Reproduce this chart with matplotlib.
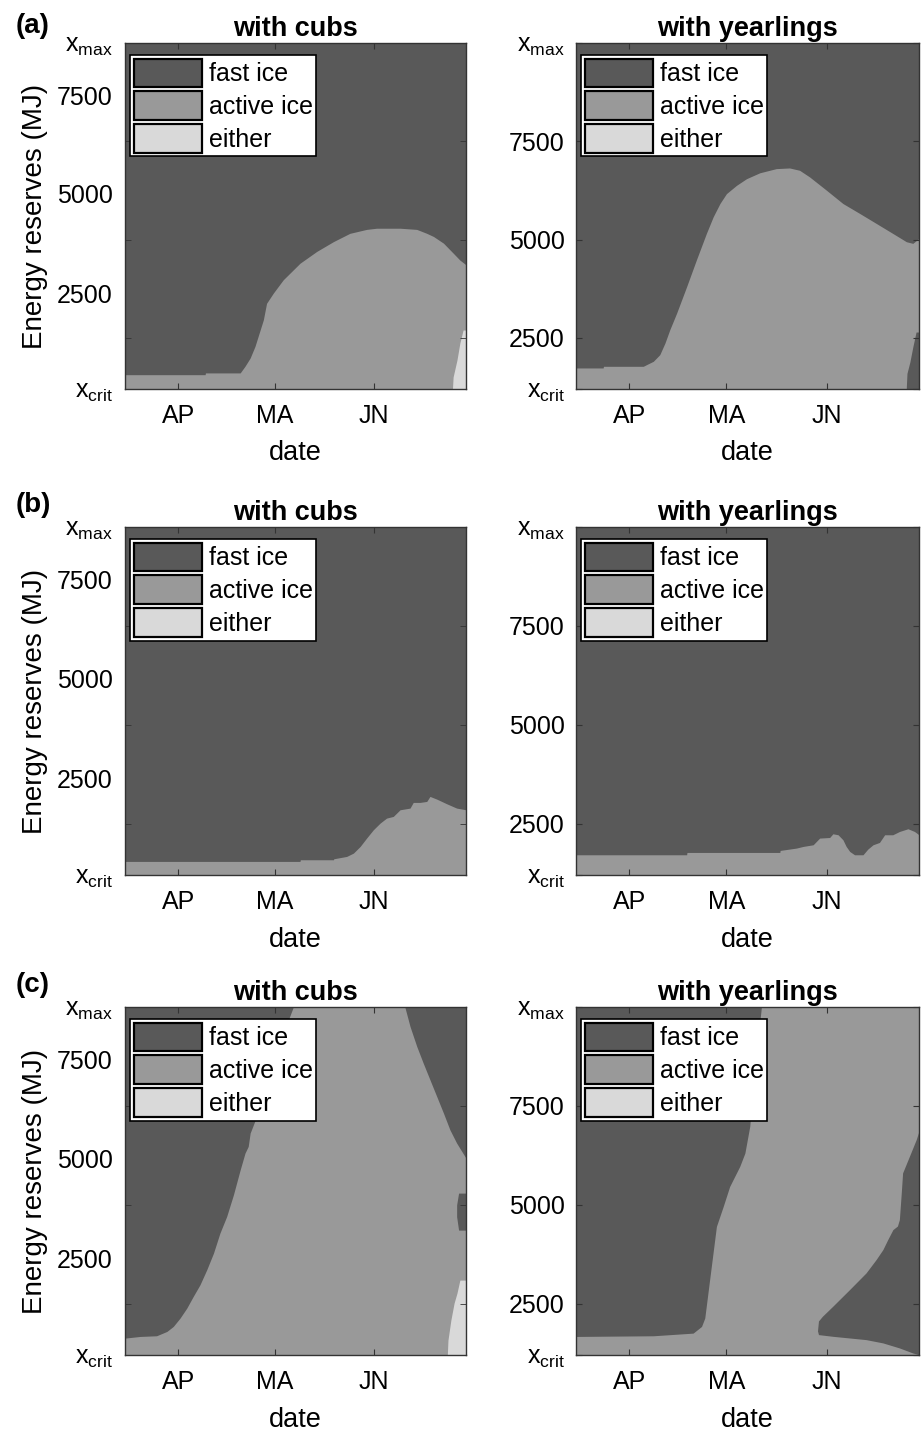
import numpy as np
import matplotlib.pyplot as plt
from matplotlib.patches import Patch

plt.rcParams['font.family'] = ['Liberation Sans', 'DejaVu Sans']
plt.rcParams['mathtext.default'] = 'regular'

# colours of the three strategies
fast_col = '#595959'
active_col = '#999999'
either_col = '#d9d9d9'
legend_labels = ['fast ice', 'active ice', 'either']

# axes: day of year (mid March .. end of June) and energy reserves (MJ)
day_lo, day_hi = 74.5, 180.5
x_crit, x_max = 1200, 10000
month_ticks = [91, 121, 152]
month_labels = ['AP', 'MA', 'JN']
energy_ticks = [2500, 5000, 7500]
energy_labels = ['2500', '5000', '7500']

# ---- (a) with cubs: active ice below the line, fast ice above
a_cubs_day = [74.5, 99.4, 99.5, 110.3, 111.8, 113.4, 114.9, 117.5, 118.5, 120.6, 123.7,
              128.9, 134.1, 139.3, 144.4, 149.6, 152.7, 160.0, 165.2, 168.3, 170.4,
              173.5, 176.6, 178.6, 180.5]
a_cubs_active = [1565, 1565, 1610, 1610, 1780, 1990, 2285, 2960, 3380, 3640, 3980,
                 4400, 4700, 4950, 5160, 5260, 5290, 5290, 5260, 5160, 5080,
                 4910, 4650, 4480, 4360]
a_cubs_either_day = [176.3, 176.5, 177.7, 178.6, 179.6, 180.5]
a_cubs_either = [1200, 1506, 1939, 2371, 2701, 2701]

# ---- (a) with yearlings
a_year_day = [74.5, 82.9, 83.0, 95.3, 96.3, 98.4, 100.4, 102.0, 103.5, 105.6, 108.7,
              111.7, 114.8, 116.9, 119.0, 121.0, 124.1, 127.2, 131.3, 136.4, 140.5,
              143.6, 146.7, 151.9, 157.0, 162.2, 167.3, 172.4, 176.6, 178.6, 180.5]
a_year_active = [1736, 1736, 1778, 1778, 1820, 1905, 2074, 2370, 2710, 3130, 3806,
                 4482, 5158, 5580, 5920, 6170, 6380, 6550, 6700, 6806, 6823,
                 6764, 6595, 6257, 5918, 5665, 5412, 5158, 4947, 4905, 5030]
a_year_fast_day = [176.6, 176.8, 177.7, 178.6, 179.6, 180.5]
a_year_fast = [1250, 1600, 1890, 2270, 2650, 2650]

# ---- (b) with cubs
b_cubs_day = [74.5, 128.9, 129.0, 139.3, 139.4, 143.4, 145.5, 147.6, 149.6, 151.7, 153.8,
              155.8, 157.9, 160.0, 163.1, 164.1, 166.2, 168.3, 169.3, 171.4, 174.5,
              177.6, 180.5]
b_cubs_active = [1545, 1545, 1587, 1587, 1612, 1671, 1755, 1924, 2135, 2346, 2514,
                 2640, 2683, 2851, 2893, 3037, 3037, 3062, 3189, 3121, 3003,
                 2893, 2851]

# ---- (b) with yearlings
b_year_day = [74.5, 108.7, 108.8, 137.5, 137.6, 142.6, 144.7, 147.8, 149.8, 152.9, 153.9,
              155.5, 157.0, 158.0, 159.1, 160.6, 163.2, 164.7, 166.3, 168.3, 169.9,
              172.4, 174.5, 177.1, 179.1, 180.5]
b_year_active = [1713, 1713, 1772, 1772, 1823, 1882, 1924, 1966, 2135, 2150, 2244,
                 2219, 2093, 1924, 1797, 1713, 1713, 1857, 1966, 2025, 2219,
                 2219, 2303, 2371, 2303, 2219]

# ---- (c) with cubs: fast ice above the left line and above the right line
c_cubs_left_day = [74.5, 79.2, 84.3, 87.5, 89.5, 91.6, 93.7, 95.7, 97.8, 99.9, 102.0,
                   104.0, 106.1, 108.2, 110.3, 111.8, 112.8, 113.4, 118.5, 123.7, 126.8]
c_cubs_left = [1629, 1671, 1688, 1797, 1924, 2135, 2388, 2683, 2978, 3357, 3779,
               4284, 4706, 5254, 5886, 6308, 6477, 6815, 7876, 9342, 10000]
c_cubs_right_day = [161.5, 163.1, 165.2, 167.2, 169.3, 171.4, 173.5, 175.5, 177.6, 179.2, 180.5]
c_cubs_right = [10000, 9511, 9005, 8584, 8162, 7741, 7319, 6898, 6561, 6350, 6180]
c_cubs_patch_day = [177.6, 178.2, 180.5]
c_cubs_patch_lo = [4700, 4360, 4360]
c_cubs_patch_hi = [5000, 5296, 5296]
c_cubs_either_day = [174.7, 174.9, 175.8, 176.8, 177.7, 178.6, 180.5]
c_cubs_either = [1200, 1578, 2084, 2514, 2767, 3096, 3096]

# ---- (c) with yearlings: fast ice on the left and a wedge on the lower right
c_year_left_day = [74.5, 98.4, 110.7, 113.3, 114.3, 115.8, 117.9, 120.0, 122.0, 125.1,
                   126.7, 128.2, 129.7, 131.8]
c_year_left = [1671, 1688, 1755, 1924, 2135, 3104, 4453, 4959, 5465, 5970,
               6308, 6982, 8415, 10000]
c_year_wedge_top_day = [149.3, 149.6, 150.8, 154.0, 159.2, 164.3, 167.4, 169.5, 171.0,
                        172.6, 174.0, 174.6, 175.2, 175.6, 177.7, 179.8, 180.5]
c_year_wedge_top = [1800, 2050, 2168, 2421, 2843, 3265, 3602, 3855, 4107,
                    4360, 4450, 4613, 5300, 5794, 6214, 6636, 6813]
c_year_wedge_bot_day = [149.3, 149.6, 154.0, 164.3, 169.5, 174.6, 178.7, 180.5]
c_year_wedge_bot = [1800, 1705, 1662, 1578, 1495, 1368, 1242, 1200]

fig = plt.figure(figsize=(9.22, 14.35), dpi=100)

col_x = [0.1356, 0.6247]
col_w = [0.3698, 0.3720]
row_y = [0.7289, 0.3902, 0.0557]
row_h = [0.2411, 0.2425, 0.2425]

# the left panels carry their numbers a bit above the tick marks
left_label_pos = [x_crit, 3640, 6180, 8670, x_max]
right_label_pos = [x_crit] + energy_ticks + [x_max]
y_labels = [r'$x_{crit}$'] + energy_labels + [r'$x_{max}$']

handles = [Patch(facecolor=c, edgecolor='black', linewidth=1.6)
           for c in [fast_col, active_col, either_col]]

axes = {}
for r in range(3):
    for c in range(2):
        ax = fig.add_axes([col_x[c], row_y[r], col_w[c], row_h[r]])
        ax.set_xlim(day_lo, day_hi)
        ax.set_ylim(x_crit, x_max)
        ax.set_xticks(month_ticks)
        ax.set_xticklabels(month_labels, fontsize=18)
        ax.tick_params(axis='x', direction='in', top=True, length=4, pad=11,
                       color='#333333')
        if c == 0:
            ax.set_yticks(left_label_pos)
            ax.set_yticklabels(y_labels, fontsize=18)
            ax.tick_params(axis='y', which='major', length=0, pad=9)
            ax.set_yticks(energy_ticks, minor=True)
            ax.tick_params(axis='y', which='minor', direction='in', left=True,
                           right=True, length=4, color='#333333')
            ax.set_ylabel('Energy reserves (MJ)', fontsize=20)
            ax.yaxis.set_label_coords(-0.225, 0.5)
            ax.set_title('with cubs', fontsize=19.5, fontweight='bold', pad=5)
        else:
            ax.set_yticks(right_label_pos)
            ax.set_yticklabels(y_labels, fontsize=18)
            ax.tick_params(axis='y', direction='in', right=True, length=4, pad=8,
                           color='#333333')
            ax.set_title('with yearlings', fontsize=19.5, fontweight='bold', pad=5)
        ax.set_xlabel('date', fontsize=19.5)
        ax.xaxis.set_label_coords(0.5, -0.148)
        for sp in ax.spines.values():
            sp.set_color('#333333')
            sp.set_linewidth(1.0)
        axes[(r, c)] = ax

# (a)
ax = axes[(0, 0)]
ax.set_facecolor(fast_col)
ax.fill_between(a_cubs_day, x_crit, a_cubs_active, color=active_col, lw=0)
ax.fill_between(a_cubs_either_day, x_crit, a_cubs_either, color=either_col, lw=0)

ax = axes[(0, 1)]
ax.set_facecolor(fast_col)
ax.fill_between(a_year_day, x_crit, a_year_active, color=active_col, lw=0)
ax.fill_between(a_year_fast_day, x_crit, a_year_fast, color=fast_col, lw=0)

# (b)
ax = axes[(1, 0)]
ax.set_facecolor(fast_col)
ax.fill_between(b_cubs_day, x_crit, b_cubs_active, color=active_col, lw=0)

ax = axes[(1, 1)]
ax.set_facecolor(fast_col)
ax.fill_between(b_year_day, x_crit, b_year_active, color=active_col, lw=0)

# (c)
ax = axes[(2, 0)]
ax.set_facecolor(active_col)
ax.fill_between(c_cubs_left_day, c_cubs_left, x_max, color=fast_col, lw=0)
ax.fill_between(c_cubs_right_day, c_cubs_right, x_max, color=fast_col, lw=0)
ax.fill_between(c_cubs_patch_day, c_cubs_patch_lo, c_cubs_patch_hi, color=fast_col, lw=0)
ax.fill_between(c_cubs_either_day, x_crit, c_cubs_either, color=either_col, lw=0)

ax = axes[(2, 1)]
ax.set_facecolor(active_col)
ax.fill_between(c_year_left_day, c_year_left, x_max, color=fast_col, lw=0)
ax.fill(np.r_[c_year_wedge_top_day, c_year_wedge_bot_day[::-1]],
        np.r_[c_year_wedge_top, c_year_wedge_bot[::-1]], color=fast_col, lw=0)

for ax in axes.values():
    leg = ax.legend(handles, legend_labels, loc='upper left',
                    bbox_to_anchor=(0.016, 0.966), borderaxespad=0, fontsize=18,
                    handlelength=2.7, handleheight=1.38, labelspacing=0.17,
                    handletextpad=0.28, borderpad=0.15, fancybox=False,
                    framealpha=1, edgecolor='black')
    leg.get_frame().set_linewidth(1.2)

for lab, y in zip(['(a)', '(b)', '(c)'], [0.9819, 0.6481, 0.3136]):
    fig.text(0.0358, y, lab, fontsize=20, fontweight='bold', ha='center', va='center')

fig.savefig('out.png', dpi=100)
